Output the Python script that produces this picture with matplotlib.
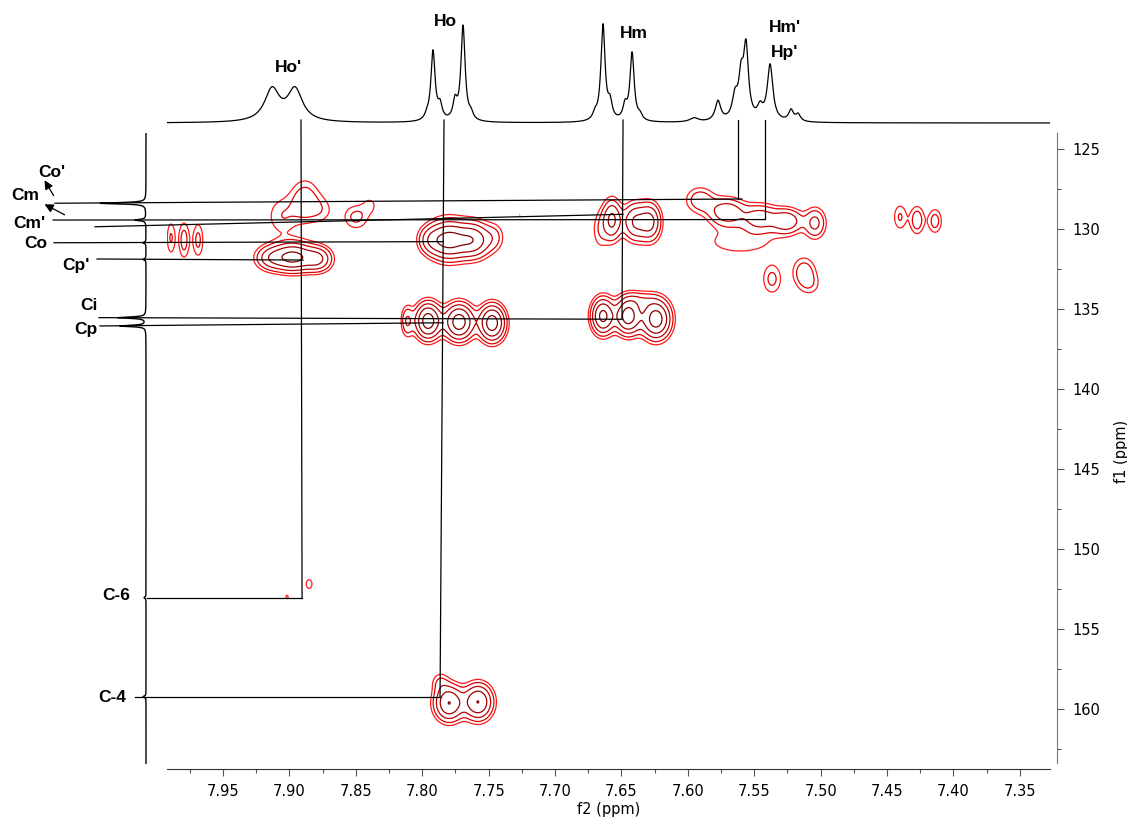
import numpy as np
import matplotlib
matplotlib.use("Agg")
import matplotlib.pyplot as plt
from matplotlib.ticker import MultipleLocator, FormatStrFormatter

# ── 1H projection (f2): position (ppm), height, half-width (ppm) ──
H_POS = [7.9131, 7.8958,
         7.7964, 7.7919, 7.7866, 7.7753, 7.7693, 7.7633,
         7.6699, 7.6639, 7.6586, 7.6473, 7.6420, 7.6360,
         7.5953,
         7.5773, 7.5645, 7.5599, 7.5562, 7.5456, 7.5381, 7.5223, 7.5170]
H_INT = [32, 32,
         4, 70, 14, 18, 95, 6,
         6, 96, 16, 14, 68, 5,
         4,
         20, 22, 38, 70, 12, 56, 11, 7]
H_HW = [0.0068, 0.0068,
        0.0019, 0.0019, 0.0019, 0.0019, 0.0019, 0.0019,
        0.0019, 0.0019, 0.0019, 0.0019, 0.0019, 0.0019,
        0.004,
        0.0025, 0.0025, 0.0022, 0.0022, 0.0025, 0.0025, 0.0022, 0.0022]

# ── 13C projection (f1): position (ppm), height ──
C1D_POS = [128.39, 129.44, 130.86, 131.90, 135.54, 136.06, 153.04, 159.23]
C1D_INT = [46, 11, 3, 3, 28, 26, 2, 3]
C1D_HW = 0.05

# ── 2D cross peaks: f2 (ppm), f1 (ppm), amplitude, sigma f2, sigma f1 ──
PK_H = [7.8883, 7.9056, 7.8755, 7.8499, 7.8393, 7.8973, 7.8785, 7.9146,
        7.9892, 7.9794, 7.9688, 7.7806, 7.7617, 7.7941, 7.6571, 7.6398,
        7.6285, 7.6661, 7.5908, 7.5705, 7.5456, 7.5253, 7.5042, 7.5607,
        7.5366, 7.5125, 7.5080, 7.4402, 7.4274, 7.4139, 7.8114, 7.7956,
        7.7723, 7.7474, 7.6639, 7.6450, 7.6240, 7.6360, 7.9018, 7.8852,
        7.7798, 7.7580, 7.7866, 7.7264, 7.7452]
PK_C = [128.25, 129.2, 128.81, 129.25, 128.5, 131.75, 131.875, 131.81,
        130.56, 130.69, 130.69, 130.69, 130.69, 130.69, 129.44, 129.56,
        129.56, 130.06, 128.19, 128.94, 129.31, 129.5, 129.625, 130.8,
        133.125, 132.69, 133.5, 129.25, 129.44, 129.5, 135.75, 135.75,
        135.81, 135.875, 135.44, 135.44, 135.625, 134.44, 153.0, 152.19,
        159.625, 159.56, 158.31, 129.125, 130.5]
PK_A = [0.26, 0.16, 0.12, 0.2, 0.11, 0.9, 0.5, 0.35,
        0.18, 0.22, 0.2, 0.9, 0.7, 0.3, 0.55, 0.5,
        0.55, 0.15, 0.25, 0.45, 0.4, 0.45, 0.35, 0.14,
        0.2, 0.25, 0.12, 0.18, 0.25, 0.22, 0.3, 1.0,
        1.0, 1.0, 0.9, 1.0, 1.0, 0.2, 0.11, 0.13,
        0.8, 0.8, 0.15, 0.105, 0.15]
PK_WH = [0.0075, 0.0083, 0.0068, 0.0068, 0.0045, 0.0098, 0.0068, 0.0075,
         0.0025, 0.003, 0.003, 0.009, 0.0085, 0.006, 0.0045, 0.006,
         0.0053, 0.0045, 0.0075, 0.009, 0.009, 0.0075, 0.0053, 0.0226,
         0.0053, 0.006, 0.006, 0.0038, 0.0038, 0.0038, 0.003, 0.006,
         0.0068, 0.006, 0.0053, 0.006, 0.0068, 0.0075, 0.0019, 0.003,
         0.0068, 0.0068, 0.0045, 0.0008, 0.005]
PK_WC = [0.9, 0.9, 0.625, 0.56, 0.44, 0.56, 0.5, 0.5,
         0.8, 0.85, 0.8, 0.75, 0.7, 0.56, 0.8, 0.75,
         0.75, 0.9, 0.56, 0.56, 0.56, 0.5, 0.625, 0.7,
         0.69, 0.625, 0.5, 0.625, 0.625, 0.56, 0.625, 0.69,
         0.69, 0.69, 0.69, 0.69, 0.75, 0.375, 0.25, 0.375,
         0.69, 0.69, 0.44, 0.19, 0.6]

LEVELS = [0.1, 0.17, 0.3, 0.5, 0.8]
LEVEL_COLORS = ["#ff1a1a", "#e00000", "#c00000", "#a00000", "#800000"]

# ── assignment labels ──
H_LABELS = [("Ho'", 7.9005, 56), ("Ho", 7.7825, 102), ("Hm", 7.6405, 90),
            ("Hm'", 7.5268, 95), ("Hp'", 7.5268, 70)]
C_LABELS = [("Co'", 8.079, 126.47), ("Cm", 8.0989, 127.906),
            ("Cm'", 8.096, 129.625), ("Co", 8.0908, 130.875),
            ("Cp'", 8.061, 132.31), ("Ci", 8.0509, 134.75),
            ("Cp", 8.0532, 136.25), ("C-6", 8.0306, 152.875),
            ("C-4", 8.0337, 159.31)]

# correlation guide lines (f2 start, f1 start, f2 end, f1 end)
GUIDES = [
    (7.8913, 123.19, 7.8905, 153.06),   # Ho' down to C-6
    (7.7836, 123.19, 7.7866, 159.25),   # Ho down to C-4
    (7.6488, 123.19, 7.6496, 135.625),  # Hm
    (7.5622, 123.19, 7.5622, 128.125),  # Hm'
    (7.5419, 123.19, 7.5419, 129.375),  # Hp'
    (8.0765, 128.39, 7.5592, 128.125),  # Cm
    (8.0780, 129.44, 7.5419, 129.41),   # Cm'
    (8.0464, 129.86, 7.6488, 129.08),
    (8.0773, 130.86, 7.7843, 130.79),   # Co
    (8.0449, 131.875, 7.8898, 131.94),  # Cp'
    (8.0434, 135.54, 7.6496, 135.64),   # Ci
    (8.0427, 136.06, 7.7843, 135.86),   # Cp
    (8.0072, 153.04, 7.8905, 153.04),   # C-6
    (8.0162, 159.23, 7.7866, 159.23),   # C-4
]
ARROWS = [((8.0765, 128.06), (8.0855, 126.81)),
          ((8.0675, 129.19), (8.0863, 128.375))]

XLIM = (7.9922, 7.3273)
YLIM = (163.75, 124.0)

W, H = 1127, 821
fig = plt.figure(figsize=(W / 100, H / 100), dpi=100)
ax = fig.add_axes([167 / W, 52 / H, 883 / W, 636 / H])
ax_top = fig.add_axes([167 / W, 696 / H, 883 / W, 120 / H], sharex=ax)
ax_left = fig.add_axes([90 / W, 52 / H, 60 / W, 636 / H], sharey=ax)

# ── 2D contours ──
xg = np.linspace(XLIM[0], XLIM[1], 1000)
yg = np.linspace(YLIM[1], YLIM[0], 700)
X, Y = np.meshgrid(xg, yg)
Z = np.zeros_like(X)
for h, c, a, wh, wc in zip(PK_H, PK_C, PK_A, PK_WH, PK_WC):
    Z += a * np.exp(-0.5 * (((X - h) / wh) ** 2 + ((Y - c) / wc) ** 2))
ax.contour(X, Y, Z, levels=LEVELS, colors=LEVEL_COLORS, linewidths=0.9)

ax.set_xlim(*XLIM)
ax.set_ylim(*YLIM)
for s in ("top", "left"):
    ax.spines[s].set_visible(False)
ax.spines["bottom"].set_color("#333333")
ax.spines["right"].set_color("#777777")
ax.spines["right"].set_position(("outward", 5))
ax.spines["right"].set_bounds(124.0, 163.4)
ax.yaxis.tick_right()
ax.yaxis.set_label_position("right")
ax.xaxis.set_major_locator(MultipleLocator(0.05))
ax.xaxis.set_minor_locator(MultipleLocator(0.025))
ax.xaxis.set_major_formatter(FormatStrFormatter("%.2f"))
ax.yaxis.set_major_locator(MultipleLocator(5))
ax.yaxis.set_minor_locator(MultipleLocator(2.5))
ax.tick_params(axis="both", which="major", length=5, width=0.8, labelsize=10.5,
               color="#555555", pad=6)
ax.tick_params(axis="both", which="minor", length=3, width=0.8, color="#555555")
ax.set_xlabel("f2 (ppm)", fontsize=10.5)
ax.xaxis.set_label_coords(0.5, -0.052)
ax.set_ylabel("f1 (ppm)", fontsize=10.5, labelpad=10)

# ── 1H projection on top ──
xs = np.linspace(XLIM[0], XLIM[1], 3000)
spec = np.zeros_like(xs)
for p, i, w in zip(H_POS, H_INT, H_HW):
    spec += i * w ** 2 / ((xs - p) ** 2 + w ** 2)
ax_top.plot(xs, spec, color="black", lw=0.9)
ax_top.set_ylim(-2, 118)
ax_top.axis("off")
for txt, x, y in H_LABELS:
    ax_top.text(x, y, txt, ha="center", va="center", fontsize=12.5,
                fontweight="bold", family="Liberation Sans")

# ── 13C projection on left ──
ys = np.linspace(124.0, 163.4, 6000)
cspec = np.zeros_like(ys)
for p, i in zip(C1D_POS, C1D_INT):
    cspec += i * C1D_HW ** 2 / ((ys - p) ** 2 + C1D_HW ** 2)
ax_left.plot(cspec, ys, color="black", lw=1.0)
ax_left.set_xlim(56, -4)
ax_left.axis("off")

# ── guide lines, arrows, labels ──
for x0, y0, x1, y1 in GUIDES:
    ax.plot([x0, x1], [y0, y1], color="black", lw=0.9, clip_on=False, zorder=3)
for (tx, ty), (hx, hy) in ARROWS:
    ax.annotate("", xy=(hx, hy), xytext=(tx, ty), annotation_clip=False,
                arrowprops=dict(arrowstyle="-|>", color="black", lw=0.9,
                                mutation_scale=13))
for txt, x, y in C_LABELS:
    ax.text(x, y, txt, ha="center", va="center", fontsize=12.5,
            fontweight="bold", family="Liberation Sans")

fig.savefig("out.png", dpi=100)
